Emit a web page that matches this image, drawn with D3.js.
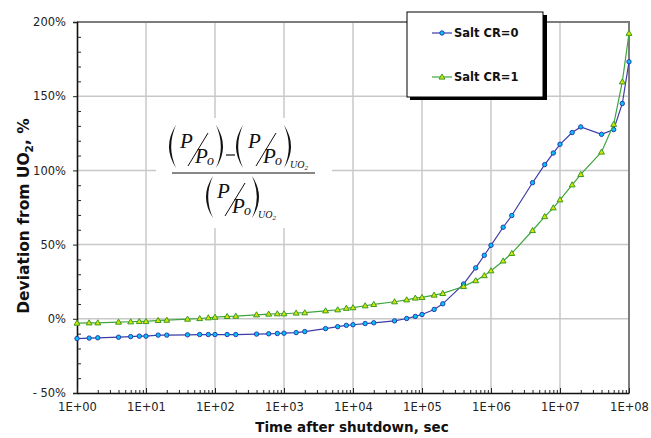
<!DOCTYPE html>
<html>
<head>
<meta charset="utf-8">
<script src="https://cdn.jsdelivr.net/npm/d3@7"></script>
<style>
  body { margin: 0; background: #fff; }
  svg { display: block; }
</style>
</head>
<body>
<svg id="chart" width="651" height="438"></svg>
<script>
// time after shutdown, seconds (same sample points for both series)
const times = [
  1, 1.5, 2, 4, 6, 8,
  10, 15, 20, 40, 60, 80,
  1e2, 1.5e2, 2e2, 4e2, 6e2, 8e2,
  1e3, 1.5e3, 2e3, 4e3, 6e3, 8e3,
  1e4, 1.5e4, 2e4, 4e4, 6e4, 8e4,
  1e5, 1.5e5, 2e5, 4e5, 6e5, 8e5,
  1e6, 1.5e6, 2e6, 4e6, 6e6, 8e6,
  1e7, 1.5e7, 2e7, 4e7, 6e7, 8e7,
  1e8
];

// deviation from UO2, %
const saltCR0 = [
  -13.3, -13.0, -12.8, -12.4, -12.0, -11.7,
  -11.7, -11.0, -11.0, -10.8, -10.6, -10.6,
  -10.6, -10.6, -10.6, -10.3, -10.1, -9.9,
  -9.7, -9.3, -8.6, -6.6, -5.3, -4.4,
  -4.0, -3.2, -2.7, -1.4, 0.2, 1.6,
  2.9, 6.3, 10.1, 23.4, 34.3, 42.8,
  49.5, 61.7, 69.6, 91.7, 103.9, 111.7,
  117.6, 125.5, 129.3, 124.3, 127.5, 145.1,
  173.2
];

const saltCR1 = [
  -2.9, -2.7, -2.7, -2.2, -2.0, -1.8,
  -1.8, -1.1, -0.9, -0.2, 0.2, 0.7,
  1.1, 1.6, 1.8, 2.7, 3.2, 3.4,
  3.4, 3.9, 4.1, 5.4, 6.1, 7.1,
  7.5, 8.8, 9.7, 11.5, 12.8, 14.0,
  14.4, 16.0, 17.1, 21.8, 25.7, 29.1,
  32.4, 39.0, 44.1, 59.5, 68.9, 74.8,
  80.2, 90.3, 97.3, 112.4, 131.1, 159.7,
  192.4
];

const seriesNames = ["Salt CR=0", "Salt CR=1"];

const yMajorTicks = [-50, 0, 50, 100, 150, 200];
const yTickLabels = ["- 50%", "0%", "50%", "100%", "150%", "200%"];
const xMajorTicks = [1, 1e1, 1e2, 1e3, 1e4, 1e5, 1e6, 1e7, 1e8];
const xTickLabels = ["1E+00", "1E+01", "1E+02", "1E+03", "1E+04", "1E+05", "1E+06", "1E+07", "1E+08"];

const xTitle = "Time after shutdown, sec";

// ---------------------------------------------------------------------------

const svg = d3.select("#chart");
const plot = { left: 77, right: 629, top: 22, bottom: 393 };

const x = d3.scaleLog().domain([1, 1e8]).range([plot.left, plot.right]);
const y = d3.scaleLinear().domain([-50, 200]).range([plot.bottom, plot.top]);

const SANS = "'DejaVu Sans', Verdana, sans-serif";
const SERIF = "'Liberation Serif', 'Times New Roman', serif";

const STYLE = [
  { line: "#3c3ca8", fill: "#00c4f4", stroke: "#2b3cb0", marker: "circle" },
  { line: "#3ea63e", fill: "#d4e600", stroke: "#3a9a22", marker: "triangle" }
];

// grid
const grid = svg.append("g").attr("stroke", "#c8c8c8").attr("stroke-width", 1.5);
grid.selectAll("line.h")
  .data(yMajorTicks.filter(v => v > -50 && v < 200))
  .join("line")
  .attr("x1", plot.left).attr("x2", plot.right)
  .attr("y1", d => y(d)).attr("y2", d => y(d));
grid.selectAll("line.v")
  .data(xMajorTicks.slice(1, -1))
  .join("line")
  .attr("y1", plot.top).attr("y2", plot.bottom)
  .attr("x1", d => x(d)).attr("x2", d => x(d));

// frame top / right (gray)
svg.append("path")
  .attr("d", `M${plot.left},${plot.top}H${plot.right}V${plot.bottom}`)
  .attr("fill", "none")
  .attr("stroke", "#7c7c7c")
  .attr("stroke-width", 2);

// formula box (covers grid)
const fx = svg.append("g");
fx.append("rect")
  .attr("x", 156).attr("y", 118).attr("width", 176).attr("height", 110)
  .attr("fill", "#fff");

function paren(g, cx, y0, y1, dir) {
  // dir = -1 for "(", +1 for ")"
  const mid = (y0 + y1) / 2;
  const bow = 7 * dir, thick = 2.2 * dir;
  const p = d3.path();
  p.moveTo(cx, y0);
  p.quadraticCurveTo(cx + bow * 2, mid, cx, y1);
  p.quadraticCurveTo(cx + bow * 2 - thick * 2, mid, cx, y0);
  p.closePath();
  g.append("path").attr("d", p.toString()).attr("fill", "#111");
}

function ratio(g, px, baseline) {
  // slanted P / Po
  g.append("text").attr("x", px).attr("y", baseline)
    .attr("font-family", SERIF).attr("font-style", "italic")
    .attr("font-size", 21).attr("fill", "#111").text("P");
  g.append("line")
    .attr("x1", px + 8).attr("y1", baseline + 18)
    .attr("x2", px + 28).attr("y2", baseline - 15)
    .attr("stroke", "#111").attr("stroke-width", 1);
  g.append("text").attr("x", px + 15).attr("y", baseline + 15)
    .attr("font-family", SERIF).attr("font-style", "italic")
    .attr("font-size", 21).attr("fill", "#111").text("P");
  g.append("text").attr("x", px + 27).attr("y", baseline + 17)
    .attr("font-family", SERIF).attr("font-style", "italic")
    .attr("font-size", 14).attr("fill", "#111").text("o");
}

function uo2(g, sx, baseline) {
  const t = g.append("text").attr("x", sx).attr("y", baseline)
    .attr("font-family", SERIF).attr("font-style", "italic")
    .attr("font-size", 10).attr("fill", "#111");
  t.append("tspan").text("UO");
  t.append("tspan").attr("font-size", 7).attr("dy", 2).text("2");
}

// numerator
paren(fx, 176, 125, 168, -1);
ratio(fx, 180, 148);
paren(fx, 216, 125, 168, 1);
fx.append("line").attr("x1", 226).attr("x2", 235).attr("y1", 155).attr("y2", 155)
  .attr("stroke", "#111").attr("stroke-width", 1.2);
paren(fx, 243, 125, 168, -1);
ratio(fx, 248, 148);
paren(fx, 284, 125, 168, 1);
uo2(fx, 290, 168);
// fraction bar
fx.append("line").attr("x1", 172).attr("x2", 315).attr("y1", 173).attr("y2", 173)
  .attr("stroke", "#111").attr("stroke-width", 1.2);
// denominator
paren(fx, 213, 176, 218, -1);
ratio(fx, 217, 198);
paren(fx, 252, 176, 218, 1);
uo2(fx, 258, 218);

// axes
svg.append("g")
  .attr("transform", `translate(${plot.left},0)`)
  .call(d3.axisLeft(y)
    .tickValues(yMajorTicks)
    .tickSize(4)
    .tickPadding(7)
    .tickFormat((d, i) => yTickLabels[i]));

const yMinor = d3.range(-50, 201, 10).filter(v => v % 50 !== 0);
svg.append("g")
  .attr("transform", `translate(${plot.left},0)`)
  .call(d3.axisRight(y).tickValues(yMinor).tickSize(4).tickFormat(""))
  .call(g => g.select(".domain").remove());

svg.append("g")
  .attr("transform", `translate(0,${plot.bottom})`)
  .call(d3.axisBottom(x)
    .tickValues(xMajorTicks)
    .tickSizeInner(-5)
    .tickSizeOuter(0)
    .tickPadding(10)
    .tickFormat((d, i) => xTickLabels[i]));

const xMinor = [];
xMajorTicks.slice(0, -1).forEach(dec => {
  for (let k = 2; k <= 9; k++) xMinor.push(dec * k);
});
svg.append("g")
  .attr("transform", `translate(0,${plot.bottom})`)
  .call(d3.axisTop(x).tickValues(xMinor).tickSize(3).tickFormat(""))
  .call(g => g.select(".domain").remove());

svg.selectAll(".tick text")
  .attr("font-family", SANS)
  .attr("font-size", 11.5)
  .attr("fill", "#222");
svg.selectAll(".domain").attr("stroke", "#111").attr("stroke-width", 1.6);
svg.selectAll(".tick line").attr("stroke", "#222");

// series
const seriesData = [saltCR0, saltCR1].map(vals => times.map((t, i) => ({ t, v: vals[i] })));
const line = d3.line().x(d => x(d.t)).y(d => y(d.v));
const tri = d3.symbol().type(d3.symbolTriangle).size(15);

seriesData.forEach((pts, si) => {
  const st = STYLE[si];
  svg.append("path")
    .datum(pts)
    .attr("d", line)
    .attr("fill", "none")
    .attr("stroke", st.line)
    .attr("stroke-width", 1.2);
  const mk = svg.append("g");
  if (st.marker === "circle") {
    mk.selectAll("circle").data(pts).join("circle")
      .attr("cx", d => x(d.t)).attr("cy", d => y(d.v)).attr("r", 2.2)
      .attr("fill", st.fill).attr("stroke", st.stroke).attr("stroke-width", 1);
  } else {
    mk.selectAll("path").data(pts).join("path")
      .attr("d", tri)
      .attr("transform", d => `translate(${x(d.t)},${y(d.v) + 0.4})`)
      .attr("fill", st.fill).attr("stroke", st.stroke).attr("stroke-width", 1);
  }
});

// axis titles
svg.append("text")
  .attr("x", (plot.left + plot.right) / 2 - 1)
  .attr("y", 432)
  .attr("text-anchor", "middle")
  .attr("font-family", SANS).attr("font-weight", "bold").attr("font-size", 13.5)
  .attr("fill", "#111")
  .text(xTitle);

const yt = svg.append("text")
  .attr("transform", "translate(29,216) rotate(-90)")
  .attr("text-anchor", "middle")
  .attr("font-family", SANS).attr("font-weight", "bold").attr("font-size", 15.5)
  .attr("fill", "#111");
yt.append("tspan").text("Deviation from UO");
yt.append("tspan").attr("font-size", 10.5).attr("dy", 4).text("2");
yt.append("tspan").attr("dy", -4).text(", %");

// legend
const lg = svg.append("g");
lg.append("rect").attr("x", 410).attr("y", 15).attr("width", 137).attr("height", 85).attr("fill", "#000");
lg.append("rect").attr("x", 407).attr("y", 12).attr("width", 136).attr("height", 85)
  .attr("fill", "#fff").attr("stroke", "#000").attr("stroke-width", 1);
const legY = [33, 77];
seriesNames.forEach((name, i) => {
  const st = STYLE[i];
  const gy = legY[i];
  lg.append("line").attr("x1", 432).attr("x2", 452).attr("y1", gy).attr("y2", gy)
    .attr("stroke", st.line).attr("stroke-width", 1.2);
  if (st.marker === "circle") {
    lg.append("circle").attr("cx", 442).attr("cy", gy).attr("r", 2.2)
      .attr("fill", st.fill).attr("stroke", st.stroke);
  } else {
    lg.append("path").attr("d", tri).attr("transform", `translate(442,${gy + 0.4})`)
      .attr("fill", st.fill).attr("stroke", st.stroke);
  }
  lg.append("text").attr("x", 454).attr("y", gy).attr("dy", "0.36em")
    .attr("font-family", SANS).attr("font-weight", "bold").attr("font-size", 11.5)
    .attr("fill", "#111").text(name);
});
</script>
</body>
</html>
